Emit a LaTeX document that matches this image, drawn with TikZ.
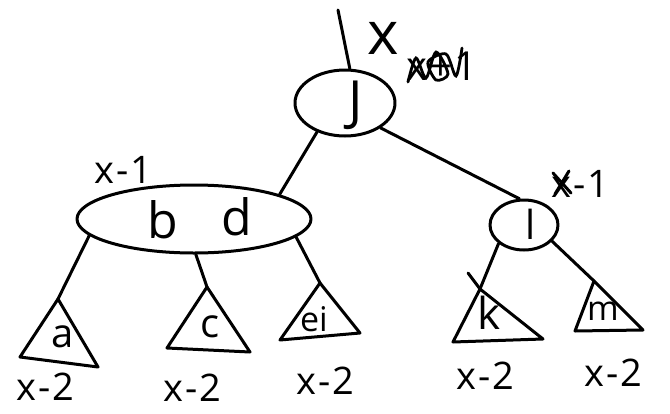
\documentclass[tikz,border=0pt]{standalone}
\usepackage{fontspec}
\setmainfont{Open Sans}
\usetikzlibrary{shapes.geometric}
\begin{document}
\begin{tikzpicture}[x=0.5pt,y=-0.5pt,
  ink/.style={line width=1.5pt, line cap=round, line join=round},
  blob/.style={draw, ellipse, ink, inner sep=0pt},
  txt/.style={inner sep=0pt, font=\fontsize{#1}{#1}\selectfont},
  txt/.default=17,
  ht/.style={txt=19, anchor=west}]
\useasboundingbox (0,0) rectangle (670,413);

% inner nodes
\node[blob, minimum width=50pt, minimum height=33pt] (J) at (345,103) {};
\node[txt=27] (Jt) at (356,105) {J};
\node[blob, minimum width=117pt, minimum height=34pt] (bd) at (194,219) {};
\node[txt=25] (b) at (163,220) {b};
\node[txt=25] (d) at (237,217) {d};
\node[blob, minimum width=34pt, minimum height=25pt] (l) at (524,225) {};
\node[txt=20] (lt) at (531,224) {l};

% subtree apexes
\coordinate (top) at (338,10);
\coordinate (aT) at (58,299);
\coordinate (cT) at (207,287);
\coordinate (eT) at (320,283);
\coordinate (kT) at (480,289);
\coordinate (mT) at (594,281);

% subtrees
\draw[ink] (aT) -- (20,357) -- (98,367) -- cycle;
\draw[ink] (cT) -- (167,348) -- (250,352) -- cycle;
\draw[ink] (eT) -- (280,340) -- (360,333) -- cycle;
\draw[ink] (kT) -- (453,342) -- (543,339) -- cycle;
\draw[ink] (kT) -- (468,273);
\draw[ink] (mT) -- (575,331) -- (643,330) -- cycle;
\node[txt=20] (a) at (63,337) {a};
\node[txt=20] (c) at (210,327) {c};
\node[txt=17] (ei) at (314,319) {ei};
\node[txt=22] (k) at (489,313) {k};
\node[txt=17] (m) at (603,311) {m};

% edges
\draw[ink] (top) -- (J.82);
\draw[ink] (J.226) -- (bd.16);
\draw[ink] (J.-35) -- (l.100);
\draw[ink] (bd.189) -- (aT);
\draw[ink] (bd.273) -- (cT);
\draw[ink] (bd.-10) -- (eT);
\draw[ink] (l.216) -- (kT);
\draw[ink] (l.-30) -- (mT);

% heights
\node[txt=30] (hJ) at (383,38) {x};
\node[txt=20, anchor=west] (hJold) at (406,66) {x\kern1pt+\kern1pt1};
\draw[line width=1.4pt, line cap=round] plot[smooth] coordinates
  {(408,82) (416,58) (426,78) (436,52) (448,74) (436,80) (428,62) (446,54) (456,76) (462,48)};
\node[ht] (hbd) at (94,170) {x\kern1pt-\kern1pt1};
\node[ht] (hl) at (551,184) {x\kern1pt-\kern1pt1};
\draw[ink] (553,173) -- (571,193);
\draw[ink] (555,194) -- (569,171);
\node[ht] (ha) at (16,387) {x\kern1pt-\kern1pt2};
\node[ht] (hc) at (163,388) {x\kern1pt-\kern1pt2};
\node[ht] (he) at (296,381) {x\kern1pt-\kern1pt2};
\node[ht] (hk) at (456,376) {x\kern1pt-\kern1pt2};
\node[ht] (hm) at (584,373) {x\kern1pt-\kern1pt2};
\end{tikzpicture}
\end{document}
